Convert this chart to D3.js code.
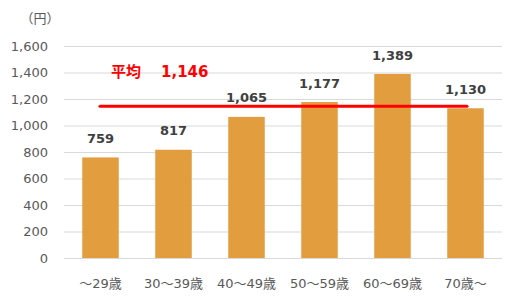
<!DOCTYPE html>
<html>
<head>
<meta charset="utf-8">
<script src="https://cdn.jsdelivr.net/npm/d3@7"></script>
<style>
  body { margin: 0; background: #fff; }
  text { font-family: "DejaVu Sans", "Noto Sans CJK JP", sans-serif; }
</style>
</head>
<body>
<script>
// chart data
var categories = ["～29歳", "30～39歳", "40～49歳", "50～59歳", "60～69歳", "70歳～"];
var values = [759, 817, 1065, 1177, 1389, 1130];
var average = 1146;
var yTicks = [0, 200, 400, 600, 800, 1000, 1200, 1400, 1600];

var width = 517, height = 306;
var margin = { top: 46, right: 15, bottom: 48, left: 64 };

var svg = d3.select("body").append("svg")
    .attr("width", width)
    .attr("height", height);

var x = d3.scaleBand()
    .domain(categories)
    .range([margin.left, width - margin.right])
    .paddingInner(0.5)
    .paddingOuter(0.25);

var y = d3.scaleLinear()
    .domain([0, 1600])
    .range([height - margin.bottom, margin.top]);

var fmt = d3.format(",");

// grid lines
svg.append("g")
    .selectAll("line")
    .data(yTicks)
    .enter().append("line")
    .attr("x1", margin.left)
    .attr("x2", width - margin.right)
    .attr("y1", function (d) { return y(d) + 0.5; })
    .attr("y2", function (d) { return y(d) + 0.5; })
    .attr("stroke", "#d9d9d9")
    .attr("stroke-width", 1);

// y axis labels
svg.append("g")
    .selectAll("text")
    .data(yTicks)
    .enter().append("text")
    .attr("x", 48)
    .attr("y", function (d) { return y(d); })
    .attr("dy", "0.35em")
    .attr("text-anchor", "end")
    .attr("font-size", 13)
    .attr("fill", "#595959")
    .text(function (d) { return fmt(d); });

svg.append("text")
    .attr("x", 40)
    .attr("y", 18)
    .attr("dy", "0.35em")
    .attr("text-anchor", "middle")
    .attr("font-size", 13)
    .attr("fill", "#595959")
    .text("（円）");

// bars
svg.append("g")
    .selectAll("rect")
    .data(values)
    .enter().append("rect")
    .attr("x", function (d, i) { return x(categories[i]); })
    .attr("y", function (d) { return y(d); })
    .attr("width", x.bandwidth())
    .attr("height", function (d) { return y(0) - y(d); })
    .attr("fill", "#e29d3f");

// value labels
svg.append("g")
    .selectAll("text")
    .data(values)
    .enter().append("text")
    .attr("x", function (d, i) { return x(categories[i]) + x.bandwidth() / 2; })
    .attr("y", function (d) { return y(d) - 19; })
    .attr("dy", "0.35em")
    .attr("text-anchor", "middle")
    .attr("font-size", 13)
    .attr("font-weight", "bold")
    .attr("fill", "#404040")
    .text(function (d) { return fmt(d); });

// x axis labels
svg.append("g")
    .selectAll("text")
    .data(categories)
    .enter().append("text")
    .attr("x", function (d) { return x(d) + x.bandwidth() / 2; })
    .attr("y", 283)
    .attr("dy", "0.35em")
    .attr("text-anchor", "middle")
    .attr("font-size", 13)
    .attr("fill", "#595959")
    .text(function (d) { return d; });

// average line
svg.append("line")
    .attr("x1", 100)
    .attr("x2", 467)
    .attr("y1", y(average))
    .attr("y2", y(average))
    .attr("stroke", "#ff0000")
    .attr("stroke-width", 3)
    .attr("stroke-linecap", "round");

svg.append("text")
    .attr("x", 111)
    .attr("y", 72)
    .attr("dy", "0.35em")
    .attr("font-size", 15)
    .attr("font-weight", "bold")
    .attr("fill", "#ff0000")
    .text("平均");

svg.append("text")
    .attr("x", 161)
    .attr("y", 72)
    .attr("dy", "0.35em")
    .attr("font-size", 15)
    .attr("font-weight", "bold")
    .attr("fill", "#ff0000")
    .text(fmt(average));
</script>
</body>
</html>
